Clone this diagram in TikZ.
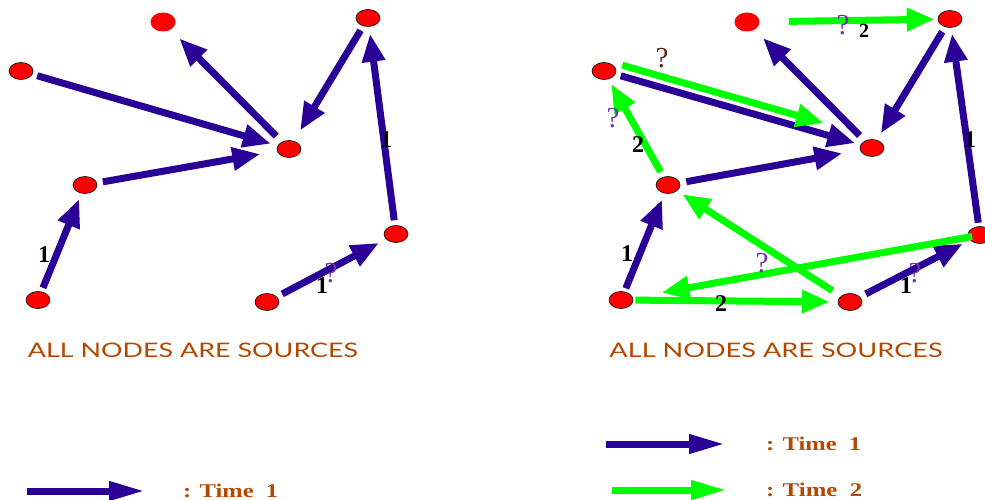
\documentclass[tikz,border=0pt]{standalone}
\usepackage{graphicx}
\usepackage{fontspec}
\setmainfont{Liberation Serif}
\newfontfamily\capsfont{Lato}
\usetikzlibrary{arrows.meta,shapes.geometric}
\definecolor{arrblue}{RGB}{42,0,150}
\definecolor{arrgreen}{RGB}{0,255,0}
\definecolor{txtbrown}{RGB}{180,72,0}
\definecolor{qpurple}{RGB}{112,48,170}
\definecolor{qbrown}{RGB}{90,35,10}
\begin{document}
\begin{tikzpicture}[x=1pt,y=-1pt,
  vert/.style={ellipse, fill=red, draw=black, line width=0.6pt, minimum width=24pt, minimum height=17pt, inner sep=0pt},
  vertnb/.style={vert, draw=none, minimum width=25pt, minimum height=19pt},
  barrow/.style={draw=arrblue, line width=7pt, -{Triangle[length=28pt,width=22pt]}},
  garrow/.style={draw=arrgreen, line width=7pt, -{Triangle[length=28pt,width=22pt]}},
  legblue/.style={draw=arrblue, line width=7pt, -{Triangle[length=36pt,width=18pt]}},
  leggreen/.style={draw=arrgreen, line width=7pt, -{Triangle[length=36pt,width=18pt]}},
  num/.style={font=\bfseries\fontsize{24}{24}\selectfont, inner sep=0pt},
  numsm/.style={font=\bfseries\fontsize{20}{20}\selectfont, inner sep=0pt},
  qm/.style={font=\fontsize{29}{29}\selectfont, text=qpurple, inner sep=0pt},
  qmb/.style={qm, text=qbrown},
  capstext/.style={text=txtbrown, inner sep=0pt},
  legtext/.style={text=txtbrown, inner sep=0pt, anchor=west}
]
\useasboundingbox (0,0) rectangle (985,500);

% ---------- left graph ----------
\node[vertnb] (lA) at (163,22) {};
\node[vert] (lB) at (21,71) {};
\node[vert] (lC) at (289,149) {};
\node[vert] (lD) at (368,18) {};
\node[vert] (lE) at (85,185) {};
\node[vert] (lF) at (38,300) {};
\node[vert] (lG) at (267,302) {};
\node[vert] (lH) at (396,234) {};

\draw[barrow, shorten <=5pt, shorten >=7pt] (lB) -- (lC);
\draw[barrow, shorten <=8pt, shorten >=12pt] (lC) -- (lA);
\draw[barrow, shorten <=5pt, shorten >=12pt] (lD) -- (lC);
\draw[barrow, shorten <=6pt, shorten >=17pt] (lE) -- (lC);
\draw[barrow, shorten <=4pt, shorten >=6pt] (lF) -- (lE);
\draw[barrow, shorten <=6pt, shorten >=8pt] (lG) -- (lH);
\draw[barrow, shorten <=5pt, shorten >=7pt] (lH) -- (lD);

\node[num] (ln1) at (386,140) {1};
\node[num] (ln2) at (44,255) {1};
\node[num] (ln3) at (322,286) {1};
\node[qm] (lq1) at (331,273) {?};

% ---------- right graph ----------
\node[vertnb] (rA) at (747,22) {};
\node[vert] (rB) at (604,71) {};
\node[vert] (rC) at (872,148) {};
\node[vert] (rD) at (950,19) {};
\node[vert] (rE) at (668,185) {};
\node[vert] (rF) at (621,300) {};
\node[vert] (rG) at (850,302) {};
\node[vert] (rH) at (980,235) {};

\draw[barrow, shorten <=5.5pt, shorten >=5.5pt] (rB) -- (rC);
\draw[barrow, shorten <=7.5pt, shorten >=11.5pt] (rC) -- (rA);
\draw[barrow, shorten <=5.5pt, shorten >=7.5pt] (rD) -- (rC);
\draw[barrow, shorten <=6.5pt, shorten >=18pt] (rE) -- (rC);
\draw[barrow, shorten <=3.5pt, shorten >=6.5pt] (rF) -- (rE);
\draw[barrow, shorten <=6.5pt, shorten >=8pt] (rG) -- (rH);
\draw[barrow, shorten <=3.5pt, shorten >=6pt] (rH) -- (rD);

\draw[garrow, shorten <=29pt, shorten >=3pt] (rA) -- (rD);
\draw[garrow, shorten <=19pt, shorten >=50pt] ([yshift=11pt]rB.center) -- ([yshift=11pt]rC.center);
\draw[garrow, shorten <=5.5pt, shorten >=5.5pt] (rE) -- (rB);
\draw[garrow, shorten <=10pt, shorten >=6pt] (rG) -- (rE);
\draw[garrow, shorten <=8pt, shorten >=29pt] (rH.center) -- (rF);
\draw[garrow, shorten <=2pt, shorten >=8pt] (rF) -- (rG);

\node[qm] (rq1) at (843,25) {?};
\node[numsm] (rn1) at (864,31) {2};
\node[qmb] (rq2) at (662,58) {?};
\node[qm] (rq3) at (613,118) {?};
\node[num] (rn2) at (638,145) {2};
\node[num] (rn3) at (970,140) {1};
\node[num] (rn4) at (627,254) {1};
\node[qm] (rq4) at (762,263) {?};
\node[num] (rn5) at (721,304) {2};
\node[num] (rn6) at (906,286) {1};
\node[qm] (rq5) at (915,273) {?};

% ---------- captions ----------
\node[capstext] (cap1) at (193,350) {\resizebox{330pt}{14.5pt}{\capsfont ALL NODES ARE SOURCES}};
\node[capstext] (cap2) at (776,350) {\resizebox{333pt}{14.5pt}{\capsfont ALL NODES ARE SOURCES}};

% ---------- legends ----------
\coordinate (l1s) at (27,491);
\coordinate (l1e) at (145,491);
\draw[legblue] (l1s) -- (l1e);
\node[legtext] (lt1) at (183,491) {\resizebox{95pt}{13.5pt}{\bfseries : Time~~1}};

\coordinate (r1s) at (606,444);
\coordinate (r1e) at (725,444);
\draw[legblue] (r1s) -- (r1e);
\node[legtext] (rt1) at (766,444) {\resizebox{95pt}{13.5pt}{\bfseries : Time~~1}};

\coordinate (r2s) at (612,490);
\coordinate (r2e) at (727,490);
\draw[leggreen] (r2s) -- (r2e);
\node[legtext] (rt2) at (766,490) {\resizebox{96pt}{13.5pt}{\bfseries : Time~~2}};
\end{tikzpicture}
\end{document}
